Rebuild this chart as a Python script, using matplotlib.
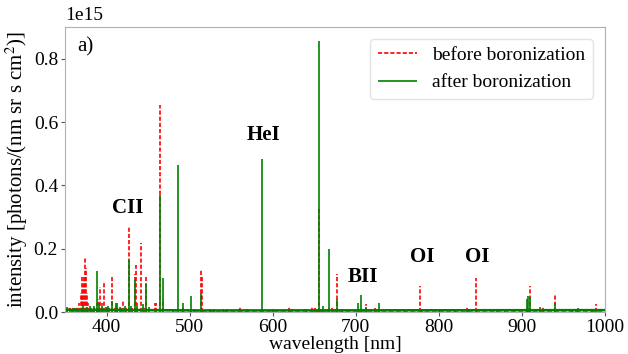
import matplotlib
matplotlib.use("Agg")
import matplotlib.pyplot as plt

plt.rcParams['font.family'] = ['Liberation Serif', 'DejaVu Serif']
plt.rcParams['mathtext.fontset'] = 'stix'

# peak positions [nm] and heights [1e15 photons/(nm sr s cm^2)]
before_nm = [352, 356, 360, 364, 367, 369, 370, 371, 372, 373, 374, 375, 376, 378, 381,
             385, 388, 390, 392, 394, 397, 400, 403, 407, 410, 413, 418, 420, 424, 427,
             431, 434, 435, 437, 441, 445, 447, 451, 458, 460, 464.7, 468, 480, 492,
             505, 513.5, 514.5, 525, 540, 561, 569, 620, 647, 651, 656.3, 660, 668,
             672, 677.6, 683, 704, 712, 723, 760, 777, 800, 834, 844.6, 880, 906,
             909.7, 926, 940, 965, 990]
before_h = [0.01, 0.015, 0.015, 0.02, 0.03, 0.06, 0.05, 0.11, 0.09, 0.11, 0.17, 0.14, 0.06, 0.03, 0.02,
            0.02, 0.03, 0.04, 0.08, 0.03, 0.098, 0.02, 0.02, 0.11, 0.02, 0.02, 0.015, 0.038, 0.02, 0.27,
            0.02, 0.12, 0.148, 0.03, 0.217, 0.02, 0.11, 0.01, 0.03, 0.03, 0.655, 0.04, 0.01, 0.02,
            0.01, 0.137, 0.11, 0.01, 0.008, 0.015, 0.01, 0.015, 0.015, 0.015, 0.33, 0.01, 0.015,
            0.015, 0.12, 0.01, 0.01, 0.025, 0.012, 0.005, 0.082, 0.005, 0.015, 0.107, 0.008, 0.02,
            0.082, 0.015, 0.057, 0.008, 0.025]

after_nm = [353, 358, 362, 366, 372, 376, 380, 383, 385, 388.9, 391, 395, 399, 402, 407,
            411, 412.5, 416, 422, 426.7, 430, 434, 437, 444, 447, 451, 464.7, 468.6, 486.1,
            492, 501.5, 514, 530, 545, 560, 587.6, 600, 622, 640, 653, 656.3, 661, 667.8,
            678, 703, 706, 712, 728, 780, 820, 835, 870, 906, 908, 910, 922, 940, 960,
            968, 985]
after_h = [0.015, 0.01, 0.012, 0.01, 0.02, 0.015, 0.02, 0.01, 0.02, 0.13, 0.03, 0.02, 0.015, 0.02, 0.035,
           0.03, 0.03, 0.015, 0.02, 0.164, 0.02, 0.10, 0.02, 0.025, 0.09, 0.015, 0.37, 0.107, 0.464,
           0.03, 0.05, 0.06, 0.008, 0.008, 0.01, 0.483, 0.008, 0.01, 0.01, 0.01, 0.855, 0.02, 0.20,
           0.04, 0.03, 0.053, 0.015, 0.028, 0.008, 0.01, 0.008, 0.008, 0.04, 0.05, 0.048, 0.015,
           0.03, 0.008, 0.012, 0.01]

# continuous background level
base_nm = [350, 450, 520, 1000]
base_before = [0.008, 0.006, 0.004, 0.004]
base_after = [0.007, 0.006, 0.005, 0.006]

labels = ['a)', 'CII', 'HeI', 'BII', 'OI', 'OI']
label_nm = [374, 426, 589.5, 709, 780, 846]
label_y = [0.837, 0.328, 0.559, 0.11, 0.173, 0.173]

yticks = [0.0, 0.2, 0.4, 0.6, 0.8]

fig = plt.figure(figsize=(6.28, 3.54), dpi=100)
ax = fig.add_axes([0.1035, 0.1186, 0.8595, 0.805])

red = '#ff0000'
green = '#008000'
dash = (0, (2.5, 1.2))
ax.plot(base_nm, base_before, color=red, lw=1.4, ls=dash)
ax.vlines(before_nm, 0, before_h, colors=red, lw=1.2,
          linestyles=[dash], label='before boronization')
ax.plot(base_nm, base_after, color=green, lw=1.8)
ax.vlines(after_nm, 0, after_h, colors=green, lw=1.2,
          label='after boronization')

for t, x, y in zip(labels, label_nm, label_y):
    ax.text(x, y, t, ha='center', va='center', fontsize=15,
            fontweight='normal' if t == 'a)' else 'bold')

ax.set_xlim(350, 1000)
ax.set_ylim(0, 0.9)
ax.set_yticks(yticks)
ax.set_yticklabels([f'{v:.1f}' for v in yticks])
ax.text(0, 1.012, '1e15', transform=ax.transAxes, fontsize=14, ha='left', va='bottom')
ax.set_xlabel('wavelength [nm]', fontsize=14, labelpad=0)
ax.set_ylabel(r'intensity [photons/(nm sr s cm$^2$)]', fontsize=15, labelpad=3)
ax.tick_params(labelsize=14, length=3, color='#555555', pad=2)
for s in ax.spines.values():
    s.set_color('#b0b0b0')

ax.legend(loc='upper right', fontsize=14, framealpha=0.8, edgecolor='#dddddd',
          borderaxespad=0.6)

fig.savefig('out.png', dpi=100)
